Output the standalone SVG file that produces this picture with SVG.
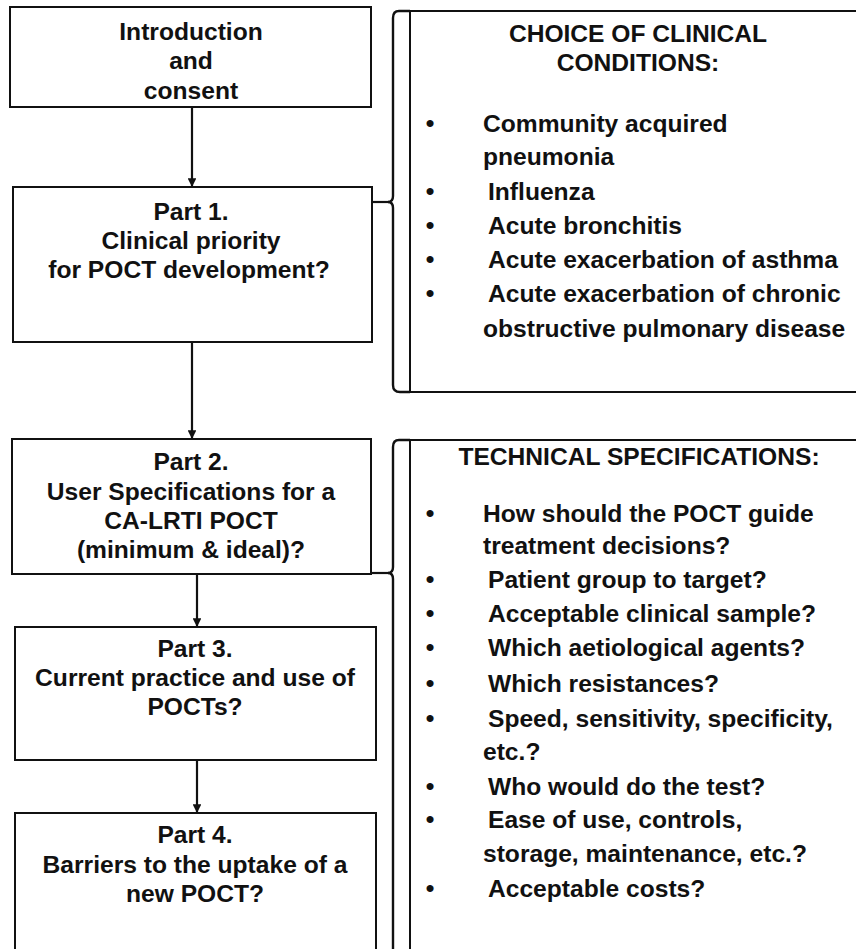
<svg xmlns="http://www.w3.org/2000/svg" width="856" height="949" viewBox="0 0 856 949">
<style>
.box{fill:#fff;stroke:#111;stroke-width:2}
.panel{fill:#fff;stroke:#111;stroke-width:2}
.brace{fill:none;stroke:#111;stroke-width:2.4}
.conn{fill:none;stroke:#111;stroke-width:2.2}
text{font-family:"Liberation Sans",Arial,sans-serif;font-weight:bold;font-size:24.6px;fill:#111}
.c{text-anchor:middle}
.b{text-anchor:middle}
</style>
<defs>
<marker id="ah" viewBox="0 0 10 10" refX="10" refY="5" markerWidth="4" markerHeight="4" orient="auto" markerUnits="strokeWidth">
<path d="M0,0 L10,5 L0,10 z" fill="#111"/>
</marker>
</defs>
<rect width="856" height="949" fill="#fff"/>

<g id="intro">
<rect class="box" x="10" y="7" width="361" height="100"/>
<text class="c" x="191" y="40">Introduction</text>
<text class="c" x="191" y="69">and</text>
<text class="c" x="191" y="99">consent</text>
</g>

<g id="part1">
<rect class="box" x="13" y="187" width="359" height="155"/>
<text class="c" x="191" y="220">Part 1.</text>
<text class="c" x="191" y="249">Clinical priority</text>
<text class="c" x="189" y="278">for POCT development?</text>
</g>

<g id="part2">
<rect class="box" x="12" y="439" width="359" height="135"/>
<text class="c" x="191" y="470">Part 2.</text>
<text class="c" x="191" y="500">User Specifications for a</text>
<text class="c" x="191" y="529">CA-LRTI POCT</text>
<text class="c" x="191" y="558">(minimum &amp; ideal)?</text>
</g>

<g id="part3">
<rect class="box" x="15" y="627" width="361" height="133"/>
<text class="c" x="195" y="657">Part 3.</text>
<text class="c" x="195" y="686">Current practice and use of</text>
<text class="c" x="195" y="715">POCTs?</text>
</g>

<g id="part4">
<rect class="box" x="15" y="813" width="361" height="160"/>
<text class="c" x="195" y="843">Part 4.</text>
<text class="c" x="195" y="873">Barriers to the uptake of a</text>
<text class="c" x="195" y="902">new POCT?</text>
</g>

<g id="conditions">
<rect class="panel" x="410" y="11" width="470" height="381"/>
<path class="brace" d="M410,11 L399,11 Q393,11 393,18 L393,196 Q393,202 388,202 Q393,202 393,208 L393,385 Q393,392 400,392 L410,392"/>
<text class="c" x="638" y="42">CHOICE OF CLINICAL</text>
<text class="c" x="638" y="71">CONDITIONS:</text>
<text class="b" x="430" y="132">•</text>
<text x="483" y="132">Community acquired</text>
<text x="483" y="165">pneumonia</text>
<text class="b" x="430" y="200">•</text>
<text x="488" y="200">Influenza</text>
<text class="b" x="430" y="234">•</text>
<text x="488" y="234">Acute bronchitis</text>
<text class="b" x="430" y="268">•</text>
<text x="488" y="268">Acute exacerbation of asthma</text>
<text class="b" x="430" y="302">•</text>
<text x="488" y="302">Acute exacerbation of chronic</text>
<text x="483" y="337">obstructive pulmonary disease</text>
</g>

<g id="specs">
<rect class="panel" x="410" y="440" width="470" height="540"/>
<path class="brace" d="M410,440 L399,440 Q393,440 393,447 L393,567 Q393,573 388,573 Q393,573 393,579 L393,960"/>
<text class="c" x="639" y="465">TECHNICAL SPECIFICATIONS:</text>
<text class="b" x="430" y="522">•</text>
<text x="483" y="522">How should the POCT guide</text>
<text x="483" y="554">treatment decisions?</text>
<text class="b" x="430" y="588">•</text>
<text x="488" y="588">Patient group to target?</text>
<text class="b" x="430" y="622">•</text>
<text x="488" y="622">Acceptable clinical sample?</text>
<text class="b" x="430" y="656">•</text>
<text x="488" y="656">Which aetiological agents?</text>
<text class="b" x="430" y="692">•</text>
<text x="488" y="692">Which resistances?</text>
<text class="b" x="430" y="727">•</text>
<text x="488" y="727">Speed, sensitivity, specificity,</text>
<text x="483" y="760">etc.?</text>
<text class="b" x="430" y="795">•</text>
<text x="488" y="795">Who would do the test?</text>
<text class="b" x="430" y="828">•</text>
<text x="488" y="828">Ease of use, controls,</text>
<text x="483" y="862">storage, maintenance, etc.?</text>
<text class="b" x="430" y="897">•</text>
<text x="488" y="897">Acceptable costs?</text>
</g>

<g id="connectors">
<line class="conn" x1="192" y1="107" x2="192" y2="187" marker-end="url(#ah)"/>
<line class="conn" x1="192" y1="342" x2="192" y2="439" marker-end="url(#ah)"/>
<line class="conn" x1="197" y1="574" x2="197" y2="627" marker-end="url(#ah)"/>
<line class="conn" x1="197" y1="760" x2="197" y2="813" marker-end="url(#ah)"/>
<line class="conn" x1="372" y1="202" x2="389" y2="202"/>
<line class="conn" x1="371" y1="573" x2="389" y2="573"/>
</g>
</svg>
